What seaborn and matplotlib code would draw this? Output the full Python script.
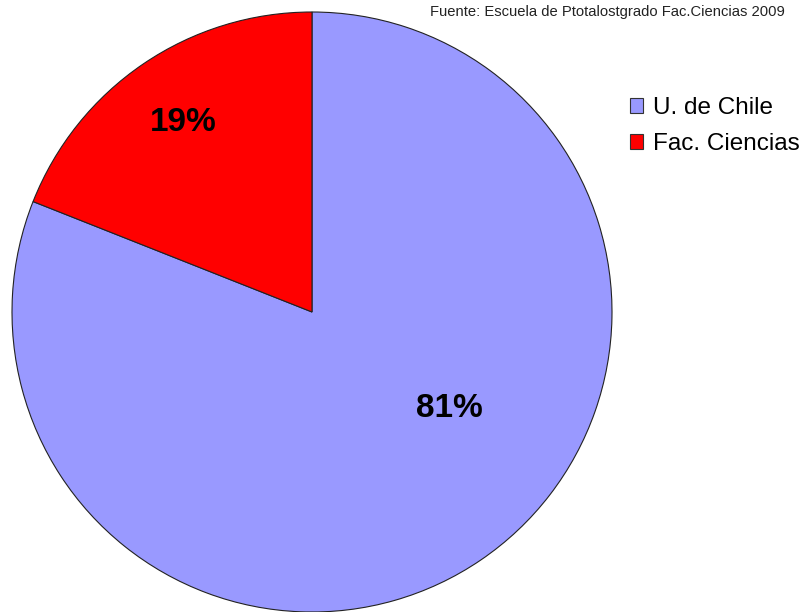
import matplotlib
matplotlib.use("Agg")
import matplotlib.pyplot as plt
import seaborn as sns
from matplotlib.patches import Patch

sns.set_theme(style="white")
plt.rcParams['font.family'] = ['Liberation Sans', 'DejaVu Sans']
plt.rcParams['text.color'] = 'black'

categories = ["U. de Chile", "Fac. Ciencias"]
values = [81, 19]
colors = ["#9999FF", "#FF0000"]
source = "Fuente: Escuela de Ptotalostgrado Fac.Ciencias 2009"

fig = plt.figure(figsize=(8.02, 6.12), dpi=100)
ax = fig.add_axes([12/802, 0/612, 600/802, 600/612])
wedges, texts, autotexts = ax.pie(
    values, colors=colors, startangle=90, counterclock=False,
    autopct=lambda p: f"{p:.0f}%", pctdistance=0.765, radius=1,
    wedgeprops=dict(edgecolor="#222222", linewidth=0.8),
    textprops=dict(fontsize=24, fontweight="bold", color="black"))
# position of the 81% label as in the reference
autotexts[0].set_position((0.457, -0.323))
ax.set_xlim(-1.0, 1.0)
ax.set_ylim(-1.0, 1.0)
ax.set_aspect("equal")
ax.axis("off")

handles = [Patch(facecolor=c, edgecolor="#333333", linewidth=0.8) for c in colors]
leg = fig.legend(handles, categories, loc="upper left", bbox_to_anchor=(630/802, 1 - 97/612),
                 frameon=False, fontsize=17.5, handlelength=0.55, handleheight=0.55,
                 handletextpad=0.38, labelspacing=0.57, borderaxespad=0, borderpad=0)
for t in leg.get_texts():
    t.set_color("black")

fig.text(785/802, 1 - 5/612, source, ha="right", va="top", fontsize=10.6, color="#222222")

fig.savefig("out.png", dpi=100, facecolor="white")
